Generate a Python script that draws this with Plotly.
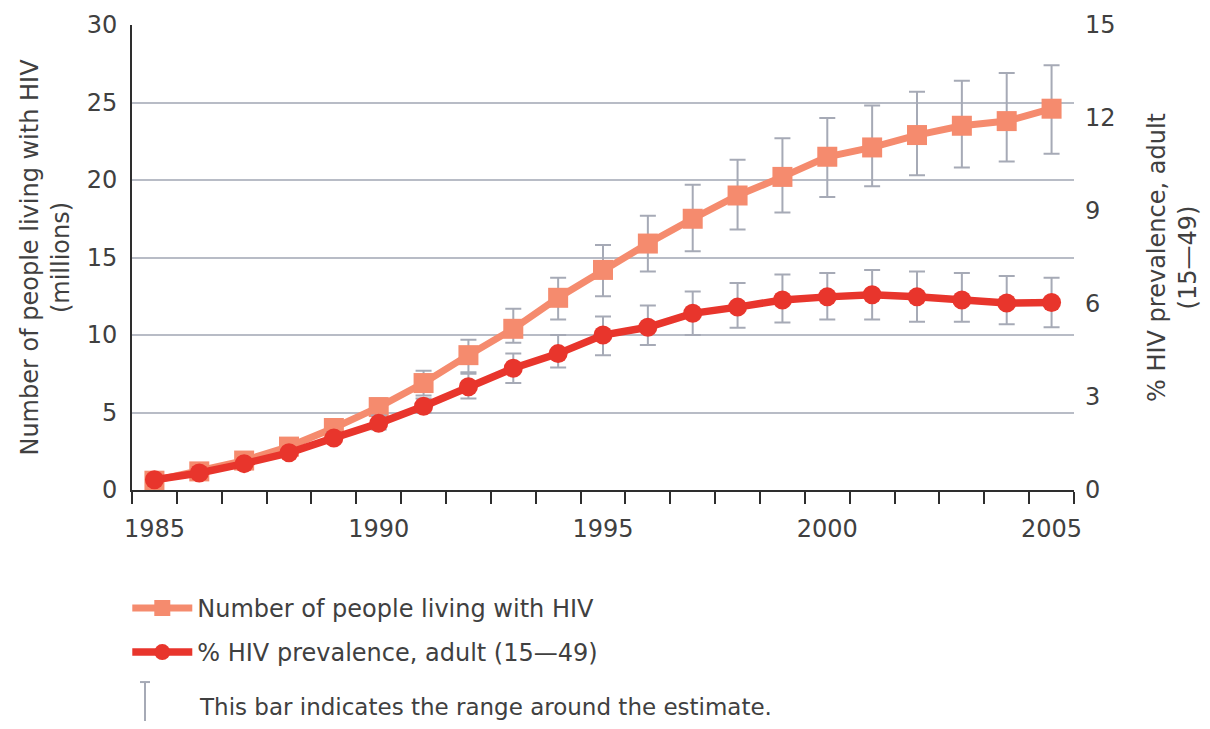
import plotly.graph_objects as go

years = list(range(1985, 2006))
people = [0.6, 1.2, 1.9, 2.8, 4.0, 5.35, 6.9, 8.7, 10.4, 12.4, 14.2, 15.9, 17.5, 19.0, 20.2, 21.5, 22.1, 22.9, 23.5, 23.8, 24.6]
people_low = [0.5, 1.05, 1.7, 2.5, 3.6, 4.9, 6.1, 7.6, 9.5, 11.0, 12.5, 14.1, 15.4, 16.8, 17.9, 18.9, 19.6, 20.3, 20.8, 21.2, 21.7]
people_high = [0.7, 1.4, 2.1, 3.1, 4.4, 5.9, 7.7, 9.7, 11.7, 13.7, 15.8, 17.7, 19.7, 21.3, 22.7, 24.0, 24.8, 25.7, 26.4, 26.9, 27.4]
prevalence = [0.33, 0.55, 0.85, 1.2, 1.68, 2.15, 2.7, 3.33, 3.93, 4.4, 5.0, 5.25, 5.7, 5.9, 6.13, 6.23, 6.3, 6.23, 6.13, 6.03, 6.05]
prev_low = [0.3, 0.5, 0.78, 1.1, 1.55, 1.95, 2.5, 2.95, 3.45, 3.95, 4.35, 4.68, 5.0, 5.23, 5.4, 5.5, 5.5, 5.43, 5.43, 5.35, 5.25]
prev_high = [0.36, 0.6, 0.93, 1.32, 1.85, 2.4, 2.95, 3.75, 4.4, 5.0, 5.6, 5.95, 6.4, 6.68, 6.95, 7.0, 7.1, 7.05, 7.0, 6.9, 6.85]
x_ticks = [1985, 1990, 1995, 2000, 2005]
left_ticks = [0, 5, 10, 15, 20, 25, 30]
right_ticks = [0, 3, 6, 9, 12, 15]

C_PEOPLE = "#f58b6e"
C_PREV = "#e8352c"
C_ERR = "#a6aab6"
C_TEXT = "#404040"
FONT = "DejaVu Sans"
FS = 24

fig = go.Figure()
fig.add_trace(go.Scatter(
    x=years, y=people, name="Number of people living with HIV",
    mode="lines+markers", legendgroup="a",
    line=dict(color=C_PEOPLE, width=7),
    marker=dict(symbol="square", size=20, color=C_PEOPLE),
    error_y=dict(type="data", symmetric=False,
                 array=[h - v for h, v in zip(people_high, people)],
                 arrayminus=[v - l for v, l in zip(people, people_low)],
                 color=C_ERR, thickness=2, width=8),
))
fig.add_trace(go.Scatter(
    x=years, y=prevalence, name="% HIV prevalence, adult (15\u201449)",
    mode="lines+markers", yaxis="y2", legendgroup="b",
    line=dict(color=C_PREV, width=7.5),
    marker=dict(symbol="circle", size=19, color=C_PREV),
    error_y=dict(type="data", symmetric=False,
                 array=[h - v for h, v in zip(prev_high, prevalence)],
                 arrayminus=[v - l for v, l in zip(prevalence, prev_low)],
                 color=C_ERR, thickness=2, width=8),
))

fig.update_layout(
    width=1194, height=713,
    margin=dict(l=124, r=128, t=17, b=231, autoexpand=False),
    paper_bgcolor="white", plot_bgcolor="white",
    font=dict(family=FONT, size=FS, color=C_TEXT),
    showlegend=True,
    legend=dict(x=-0.005, y=-0.206, xanchor="left", yanchor="top",
                itemwidth=60, tracegroupgap=10,
                font=dict(family=FONT, size=FS, color=C_TEXT),
                bgcolor="rgba(0,0,0,0)"),
    xaxis=dict(range=[1984.5, 2005.5], tickmode="array", tickvals=x_ticks,
               ticktext=[str(t) for t in x_ticks], automargin=False,
               ticks="outside", ticklen=16, tickcolor="rgba(0,0,0,0)",
               tickfont=dict(size=FS, color=C_TEXT),
               showline=True, linecolor="#2e2e2e", linewidth=2,
               showgrid=False, zeroline=False,
               minor=dict(tickmode="linear", tick0=1984.5, dtick=1,
                          ticks="outside", ticklen=12, tickwidth=2,
                          tickcolor="#2e2e2e", showgrid=False)),
    yaxis=dict(range=[0, 30], tickmode="array", tickvals=left_ticks,
               tickfont=dict(size=FS, color=C_TEXT), automargin=False,
               showline=True, linecolor="#2e2e2e", linewidth=2,
               showgrid=True, gridcolor="#b8bcc6", gridwidth=2,
               zeroline=False, ticks="", ticklabelstandoff=8,
               title=dict(text="Number of people living with HIV<br>(millions)",
                          font=dict(size=FS, color=C_TEXT), standoff=10)),
    yaxis2=dict(range=[0, 15], tickmode="array", tickvals=right_ticks,
                overlaying="y", side="right", automargin=False,
                tickfont=dict(size=FS, color=C_TEXT),
                showline=False, showgrid=False, zeroline=False,
                ticks="", ticklabelstandoff=10,
                title=dict(text="% HIV prevalence, adult<br>(15\u201449)",
                           font=dict(size=FS, color=C_TEXT), standoff=38)),
)

# legend note for the error bar
fig.add_shape(type="line", xref="paper", yref="paper",
              x0=0.0138, x1=0.0138, y0=-0.413, y1=-0.51,
              line=dict(color=C_ERR, width=2))
fig.add_shape(type="line", xref="paper", yref="paper",
              x0=0.0085, x1=0.0191, y0=-0.413, y1=-0.413,
              line=dict(color=C_ERR, width=2))
fig.add_annotation(xref="paper", yref="paper", x=0.069, y=-0.466,
                   xanchor="left", yanchor="middle", showarrow=False,
                   text="This bar indicates the range around the estimate.",
                   font=dict(family=FONT, size=23, color=C_TEXT))

fig.write_html("out.html")
